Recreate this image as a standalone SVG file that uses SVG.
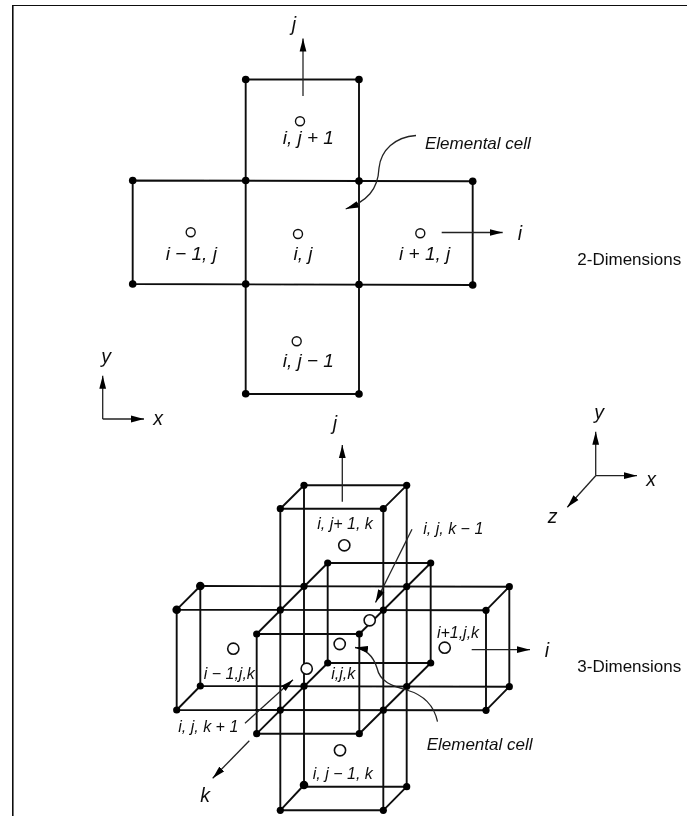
<svg xmlns="http://www.w3.org/2000/svg" width="687" height="816" viewBox="0 0 687 816">
<style>
text{font-family:"Liberation Sans",Arial,sans-serif;font-style:italic;fill:#111}
.m{text-anchor:middle}
.a{font-size:19px}
.b{font-size:16px}
.c{font-size:17px}
.d{font-size:19.5px}
.n{font-size:17px;font-style:normal}
.g{fill:none;stroke:#111;stroke-width:1.9}
.p{fill:none;stroke:#222;stroke-width:1.3;marker-end:url(#h)}
.dot circle{fill:#000}
.o{fill:#fff;stroke:#111}
</style>
<defs>
<marker id="h" markerUnits="userSpaceOnUse" markerWidth="14" markerHeight="8" refX="13" refY="4" orient="auto">
<path d="M0,0.6 L13,4 L0,7.4 Z" fill="#000"/>
</marker>
<filter id="s" x="0" y="0" width="100%" height="100%"><feGaussianBlur stdDeviation="0.4"/></filter>
</defs>
<rect width="687" height="816" fill="#fff"/>
<g filter="url(#s)">
<path id="frame" d="M12.5,816V5H687" fill="none" stroke="#111" stroke-width="2.2"/>

<g id="grid-2d">
<path class="g" d="M245.7,79.5H359V394H245.7ZM132.7,180.5L472.7,181.3V285L132.7,284ZM245.7,180.5V284M359,181V284.5"/>
<g class="dot">
<circle cx="245.7" cy="79.5" r="3.8"/><circle cx="359" cy="79.5" r="3.8"/>
<circle cx="132.7" cy="180.5" r="3.8"/><circle cx="245.7" cy="180.5" r="3.8"/><circle cx="359" cy="181" r="3.8"/><circle cx="472.7" cy="181.3" r="3.8"/>
<circle cx="132.7" cy="284" r="3.8"/><circle cx="245.7" cy="284" r="3.8"/><circle cx="359" cy="284.5" r="3.8"/><circle cx="472.7" cy="285" r="3.8"/>
<circle cx="245.7" cy="393.7" r="3.8"/><circle cx="359" cy="394" r="3.8"/>
</g>
</g>

<g id="grid-3d">
<path class="g" d="M304,485.3H406.7V786.7H304ZM280.3,508.7H383.3V810.3H280.3ZM304,485.3L280.3,508.7M406.7,485.3L383.3,508.7M304,785L280.3,810.3M406.7,786.7L383.3,810.3"/>
<path class="g" d="M200.3,586L509.3,586.7V686.7L200.3,686ZM176.7,609.7L486,610.3V710.3L176.7,710ZM200.3,586L176.7,609.7M509.3,586.7L486,610.3M200.3,686L176.7,710M509.3,686.7L486,710.3"/>
<path class="g" d="M327.7,563H430.7V663H327.7ZM256.7,634H359.3V733.7H256.7ZM327.7,563L256.7,634M430.7,563L359.3,634M327.7,663L256.7,733.7M430.7,663L359.3,733.7"/>
<g class="dot">
<circle cx="304" cy="485.3" r="3.6"/><circle cx="406.7" cy="485.3" r="3.6"/><circle cx="280.3" cy="508.7" r="3.6"/><circle cx="383.3" cy="508.7" r="3.6"/>
<circle cx="327.7" cy="563" r="3.6"/><circle cx="430.7" cy="563" r="3.6"/><circle cx="327.7" cy="663" r="3.6"/><circle cx="430.7" cy="663" r="3.6"/>
<circle cx="256.7" cy="634" r="3.6"/><circle cx="359.3" cy="634" r="3.6"/><circle cx="256.7" cy="733.7" r="3.6"/><circle cx="359.3" cy="733.7" r="3.6"/>
<circle cx="200.3" cy="586" r="4.3"/><circle cx="509.3" cy="586.7" r="3.6"/><circle cx="200.3" cy="686" r="3.6"/><circle cx="509.3" cy="686.7" r="3.6"/>
<circle cx="176.7" cy="609.7" r="4.3"/><circle cx="486" cy="610.3" r="3.6"/><circle cx="176.7" cy="710" r="3.6"/><circle cx="486" cy="710.3" r="3.6"/>
<circle cx="304" cy="586.3" r="3.6"/><circle cx="406.7" cy="586.6" r="3.6"/><circle cx="280.3" cy="609.9" r="3.6"/><circle cx="383.3" cy="610.1" r="3.6"/>
<circle cx="304" cy="686.2" r="3.6"/><circle cx="406.7" cy="686.5" r="3.6"/><circle cx="280.3" cy="710.1" r="3.6"/><circle cx="383.3" cy="710.2" r="3.6"/>
<circle cx="304" cy="785" r="4.3"/><circle cx="406.7" cy="786.7" r="3.6"/><circle cx="280.3" cy="810.3" r="3.6"/><circle cx="383.3" cy="810.3" r="3.6"/>
</g>
</g>

<g id="connectors">
<path class="p" d="M303,96V38.5"/>
<path class="p" d="M441.7,232.5H502.7"/>
<path class="p" d="M416,135.5C395,137 381,150 379,168C378,190 367,201 345.7,209"/>
<path class="p" d="M102.7,419V375.7"/>
<path class="p" d="M102.7,419H144"/>
<path class="p" d="M595.7,475.7V431.7"/>
<path class="p" d="M595.7,475.7H637"/>
<path class="p" d="M595.7,475.7L567.3,507.3"/>
<path class="p" d="M342.3,501.7V445"/>
<path class="p" d="M471.7,649.7H530"/>
<path class="p" d="M249.3,740.7L212.7,778.3"/>
<path class="p" d="M245,723.3L293,679.7"/>
<path class="p" d="M412,529.3L375.5,602.5"/>
<path class="p" d="M437.5,721.7C434,705 424,695 406.7,690C392,686 380,682 377,668C373,655 365,649 355,647.5"/>
</g>

<g id="cell-2d-top"><circle class="o" cx="300" cy="121.3" r="4.5" stroke-width="1.4"/><text class="a m" x="308.3" y="144">i, j + 1</text></g>
<g id="cell-2d-left"><circle class="o" cx="190.7" cy="232.3" r="4.5" stroke-width="1.4"/><text class="a m" x="191.3" y="259.7">i − 1, j</text></g>
<g id="cell-2d-center"><circle class="o" cx="298" cy="234" r="4.5" stroke-width="1.4"/><text class="a m" x="303" y="259.7">i, j</text></g>
<g id="cell-2d-right"><circle class="o" cx="420.3" cy="233.3" r="4.5" stroke-width="1.4"/><text class="a m" x="424.7" y="260">i + 1, j</text></g>
<g id="cell-2d-bottom"><circle class="o" cx="296.7" cy="341.3" r="4.5" stroke-width="1.4"/><text class="a m" x="308.3" y="367">i, j − 1</text></g>

<g id="cell-3d-top"><circle class="o" cx="344.3" cy="545.3" r="5.6" stroke-width="1.6"/><text class="b m" x="345" y="529.3">i, j+ 1, k</text></g>
<g id="cell-3d-back"><circle class="o" cx="369.7" cy="620.3" r="5.6" stroke-width="1.6"/><text class="b m" x="453.3" y="534.3">i, j, k − 1</text></g>
<g id="cell-3d-left"><circle class="o" cx="233.3" cy="648.7" r="5.6" stroke-width="1.6"/><text class="b m" x="229.3" y="679.3">i − 1,j,k</text></g>
<g id="cell-3d-center"><circle class="o" cx="339.7" cy="644" r="5.6" stroke-width="1.6"/><text class="b m" x="343.3" y="679.3">i,j,k</text></g>
<g id="cell-3d-right"><circle class="o" cx="444.7" cy="647.7" r="5.6" stroke-width="1.6"/><text class="b m" x="458" y="638.3">i+1,j,k</text></g>
<g id="cell-3d-front"><circle class="o" cx="306.7" cy="668.7" r="5.6" stroke-width="1.6"/><text class="b m" x="208.3" y="731.7">i, j, k + 1</text></g>
<g id="cell-3d-bottom"><circle class="o" cx="340" cy="750.3" r="5.6" stroke-width="1.6"/><text class="b m" x="342.8" y="779">i, j − 1, k</text></g>

<g id="labels">
<text class="d m" x="294" y="31">j</text>
<text class="c" x="425" y="149.3">Elemental cell</text>
<text class="d m" x="520" y="240">i</text>
<text class="n" x="577.3" y="265.3">2-Dimensions</text>
<text class="d m" x="106" y="363">y</text>
<text class="d m" x="158" y="425">x</text>
<text class="d m" x="599" y="419">y</text>
<text class="d m" x="651" y="486">x</text>
<text class="d m" x="552.7" y="523">z</text>
<text class="d m" x="335" y="430">j</text>
<text class="d m" x="547" y="657">i</text>
<text class="n" x="577.3" y="672">3-Dimensions</text>
<text class="c" x="426.7" y="750">Elemental cell</text>
<text class="d m" x="205" y="802">k</text>
</g>
</g>
</svg>
